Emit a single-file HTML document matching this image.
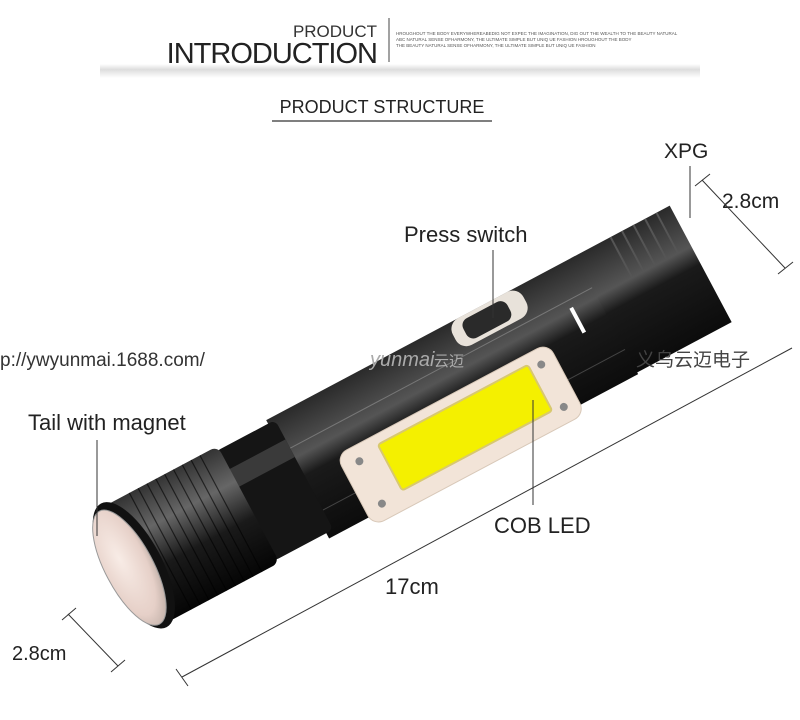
<!DOCTYPE html>
<html><head><meta charset="utf-8"><style>
html,body{margin:0;padding:0;background:#fff;}
svg{display:block}
text{font-family:"Liberation Sans","Noto Sans CJK SC",sans-serif;}
</style></head><body>
<svg width="800" height="720" viewBox="0 0 800 720" xmlns="http://www.w3.org/2000/svg">
<defs>
<linearGradient id="sh" x1="0" y1="0" x2="0" y2="1">
<stop offset="0" stop-color="#fff"/><stop offset="0.4" stop-color="#ddd"/><stop offset="1" stop-color="#fff"/></linearGradient>
<linearGradient id="bd" x1="0" y1="0" x2="0" y2="1">
<stop offset="0" stop-color="#2a2a2a"/><stop offset="0.35" stop-color="#555"/><stop offset="0.5" stop-color="#1a1a1a"/><stop offset="1" stop-color="#0c0c0c"/></linearGradient>
<linearGradient id="cap" x1="0" y1="0" x2="0" y2="1">
<stop offset="0" stop-color="#333"/><stop offset="0.3" stop-color="#666"/><stop offset="0.6" stop-color="#1a1a1a"/><stop offset="1" stop-color="#050505"/></linearGradient>
<radialGradient id="face" cx="0.4" cy="0.4" r="0.7">
<stop offset="0" stop-color="#f8ece6"/><stop offset="0.7" stop-color="#e6d0c8"/><stop offset="1" stop-color="#b8a8a0"/></radialGradient>
</defs>
<rect x="100" y="64" width="600" height="14" fill="url(#sh)"/>
<text x="377" y="37" font-size="17" text-anchor="end" fill="#333">PRODUCT</text>
<text x="377" y="63" font-size="29" text-anchor="end" fill="#222" letter-spacing="-1">INTRODUCTION</text>
<line x1="389" y1="18" x2="389" y2="62" stroke="#444" stroke-width="1"/>
<text x="396" y="35" font-size="4.5" fill="#555">HROUGHOUT THE BODY EVERYWHEREABEDIG NOT EXPEC THE IMAGINATION, DIG OUT THE WEALTH TO THE BEAUTY NATURAL</text>
<text x="396" y="41" font-size="4.5" fill="#555">ABC NATURAL SENSE OFHARMONY, THE ULTIMATE SIMPLE BUT UNIQ UE FASHION HROUGHOUT THE BODY</text>
<text x="396" y="47" font-size="4.5" fill="#555">THE BEAUTY NATURAL SENSE OFHARMONY, THE ULTIMATE SIMPLE BUT UNIQ UE FASHION</text>
<text x="382" y="113" font-size="18" text-anchor="middle" fill="#222">PRODUCT STRUCTURE</text>
<line x1="272" y1="121" x2="492" y2="121" stroke="#333" stroke-width="1.2"/>

<g transform="translate(125,570) rotate(-28)">
  <rect x="540" y="-66" width="112" height="132" fill="url(#bd)"/>
  <g stroke="#555" stroke-width="2">
    <line x1="585" y1="-66" x2="585" y2="-20"/><line x1="598" y1="-66" x2="598" y2="-20"/>
    <line x1="611" y1="-66" x2="611" y2="-20"/><line x1="624" y1="-66" x2="624" y2="-20"/>
    <line x1="637" y1="-66" x2="637" y2="-20"/>
  </g>
  <rect x="195" y="-66" width="350" height="134" fill="url(#bd)"/>
  <line x1="195" y1="-30" x2="545" y2="-30" stroke="#777" stroke-width="1"/>
  <line x1="195" y1="40" x2="545" y2="40" stroke="#444" stroke-width="1"/>
  <rect x="135" y="-62" width="68" height="124" rx="6" fill="#151515"/>
  <rect x="135" y="-40" width="68" height="20" fill="#3a3a3a"/>
  <rect x="10" y="-66" width="130" height="132" rx="8" fill="url(#cap)"/>
  <g stroke="#000" stroke-width="1.2" opacity="0.6">
    <line x1="40" y1="-66" x2="40" y2="66"/><line x1="50" y1="-66" x2="50" y2="66"/><line x1="60" y1="-66" x2="60" y2="66"/>
    <line x1="70" y1="-66" x2="70" y2="66"/><line x1="80" y1="-66" x2="80" y2="66"/><line x1="90" y1="-66" x2="90" y2="66"/>
    <line x1="100" y1="-66" x2="100" y2="66"/><line x1="110" y1="-66" x2="110" y2="66"/><line x1="120" y1="-66" x2="120" y2="66"/>
  </g>
  <ellipse cx="10" cy="0" rx="28" ry="70" fill="#111"/>
  <ellipse cx="5" cy="0" rx="24" ry="64" fill="url(#face)" stroke="#999" stroke-width="1"/>
  <rect x="400" y="-66" width="80" height="30" rx="12" fill="#e8e2da"/>
  <rect x="412" y="-62" width="50" height="22" rx="8" fill="#2a2a2a"/>
  <rect x="240" y="-2" width="240" height="80" rx="12" fill="#f2e4d8" stroke="#d8c8b8"/>
  <rect x="282" y="8" width="170" height="52" rx="3" fill="#f4f000" stroke="#d8c870" stroke-width="2"/>
  <circle cx="258" cy="14" r="4" fill="#888"/><circle cx="258" cy="62" r="4" fill="#888"/>
  <circle cx="464" cy="14" r="4" fill="#888"/><circle cx="464" cy="62" r="4" fill="#888"/>
  <rect x="515" y="-22" width="4" height="28" fill="#fff"/>
</g>

<text x="0" y="366" font-size="19" fill="#333">p://ywyunmai.1688.com/</text>
<text x="370" y="366" font-size="20" fill="#aaa" font-style="italic">yunmai</text>
<text x="434" y="366" font-size="15" fill="#aaa">云迈</text>
<text x="636" y="366" font-size="19" fill="#444">义乌云迈电子</text>

<text x="664" y="158" font-size="21" fill="#222">XPG</text>
<line x1="690" y1="166" x2="690" y2="218" stroke="#333"/>
<text x="722" y="208" font-size="21" fill="#222">2.8cm</text>
<line x1="702" y1="180" x2="785" y2="268" stroke="#333"/>
<line x1="695" y1="186" x2="710" y2="174" stroke="#333"/>
<line x1="778" y1="274" x2="793" y2="262" stroke="#333"/>
<text x="404" y="242" font-size="22" fill="#222">Press switch</text>
<line x1="493" y1="250" x2="493" y2="318" stroke="#333"/>
<text x="28" y="430" font-size="22" fill="#222">Tail with magnet</text>
<line x1="97" y1="440" x2="97" y2="536" stroke="#333"/>
<text x="494" y="533" font-size="22" fill="#222">COB  LED</text>
<line x1="533" y1="400" x2="533" y2="505" stroke="#333"/>
<text x="385" y="594" font-size="22" fill="#222">17cm</text>
<line x1="182" y1="677" x2="792" y2="348" stroke="#333"/>
<line x1="176" y1="669" x2="188" y2="686" stroke="#333"/>
<text x="12" y="660" font-size="20" fill="#222">2.8cm</text>
<line x1="68" y1="614" x2="118" y2="666" stroke="#333"/>
<line x1="62" y1="620" x2="76" y2="608" stroke="#333"/>
<line x1="111" y1="672" x2="125" y2="660" stroke="#333"/>
</svg>
</body></html>
